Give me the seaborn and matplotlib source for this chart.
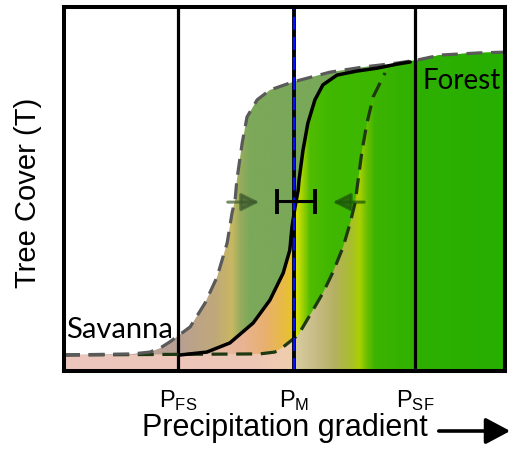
import numpy as np
import pandas as pd
import seaborn as sns
import matplotlib
matplotlib.use("Agg")
import matplotlib.pyplot as plt
from matplotlib.colors import LinearSegmentedColormap
from matplotlib.patches import Polygon, FancyArrowPatch

# ---------------- data (precipitation 0-100, tree cover 0-1) ----------------
savanna_T = 0.044

envelope_x = [0.0, 15.6, 19.5, 21.8, 24.0, 28.6, 32.0, 34.7, 37.0, 38.1, 38.8, 39.2,
              40.4, 41.5, 43.8, 46.7, 51.9, 60.3, 67.8, 75.5, 80.0, 85.3, 94.3, 100.0]
envelope_t = [0.044, 0.047, 0.052, 0.063, 0.080, 0.121, 0.187, 0.258, 0.352, 0.434, 0.470, 0.525,
              0.626, 0.698, 0.745, 0.772, 0.794, 0.821, 0.835, 0.846, 0.854, 0.868, 0.874, 0.876]

solid_x = [26.3, 32.4, 37.6, 42.9, 46.7, 49.7, 51.2, 51.7, 52.4, 53.1, 53.3, 54.2,
           55.3, 56.9, 58.7, 61.9, 66.4, 71.0, 75.5, 78.5]
solid_t = [0.044, 0.052, 0.077, 0.132, 0.195, 0.269, 0.332, 0.396, 0.451, 0.497, 0.525, 0.607,
           0.681, 0.745, 0.786, 0.813, 0.824, 0.832, 0.843, 0.849]

right_x = [0.0, 44.4, 47.8, 49.7, 53.1, 55.8, 58.7, 61.0, 63.3, 64.9, 66.0, 66.7,
           67.6, 68.7, 70.1, 72.8]
right_t = [0.044, 0.047, 0.052, 0.066, 0.099, 0.154, 0.214, 0.272, 0.341, 0.407, 0.462, 0.525,
           0.607, 0.681, 0.753, 0.819]

threshold_names = [r"$\mathregular{P_{FS}}$", r"$\mathregular{P_{M}}$", r"$\mathregular{P_{SF}}$"]
threshold_x = [25.85, 52.15, 79.6]

pm_est_x, pm_est_t, pm_err = 52.6, 0.467, 4.3
arrow_left = (36.5, 44.9)
arrow_right = (68.7, 60.3)
arrow_t = 0.464

# colour stops (precipitation position, colour) for the shaded layers
stops_envelope = [(0, "#C8A8A0"), (26.3, "#B8A093"), (34.2, "#C0A87A"), (38.1, "#C8B862"),
                  (39.9, "#98AC5E"), (42.2, "#7CA85A"), (100, "#70A858")]
stops_solid = [(0, "#EBC4BC"), (30.8, "#E9C0B2"), (39.9, "#E8B496"), (45.6, "#E8B070"),
               (50.1, "#E8BC40"), (51.7, "#E8C424"), (52.2, "#E0D000"), (52.8, "#D4E400"),
               (54.2, "#9CD000"), (55.8, "#50BC00"), (60.3, "#40B800"), (100, "#34B200")]
stops_right = [(0, "#ECC6BE"), (42.2, "#EEC6B6"), (50.1, "#F0CCB0"), (51.9, "#EED0A8"),
               (52.6, "#D8CCA0"), (56.9, "#C8BC88"), (61.5, "#B4B060"), (65.3, "#A8C028"),
               (67.1, "#A8D000"), (68.5, "#70C000"), (70.5, "#3CB400"), (80.7, "#2EB000"),
               (100, "#26AE00")]

# ---------------- figure ----------------
sns.set_theme(style="white")
plt.rcParams["font.family"] = ["Liberation Sans", "DejaVu Sans"]
plt.rcParams["mathtext.default"] = "regular"

fig = plt.figure(figsize=(5.14, 4.51), dpi=100)
ax = fig.add_axes([64 / 514, 1 - 371 / 451, 441 / 514, 364 / 451])


def gradient_layer(xs, ts, stops, z):
    verts = [(xs[0], 0)] + list(zip(xs, ts)) + [(xs[-1], 0)]
    poly = Polygon(verts, closed=True, facecolor="none", edgecolor="none")
    ax.add_patch(poly)
    cmap = LinearSegmentedColormap.from_list(
        "g", [(p / 100.0, c) for p, c in stops], N=2048)
    grad = np.linspace(0, 1, 2048).reshape(1, -1)
    im = ax.imshow(grad, cmap=cmap, extent=[0, 100, 0, 1], aspect="auto",
                   origin="lower", interpolation="bilinear", zorder=z)
    im.set_clip_path(poly)


env_x = np.array(envelope_x)
env_t = np.array(envelope_t)

gradient_layer(envelope_x, envelope_t, stops_envelope, 1)
tail = env_x > solid_x[-1]
sx = [0.0] + solid_x + list(env_x[tail])
st = [savanna_T] + solid_t + list(env_t[tail])
gradient_layer(sx, st, stops_solid, 1.1)
tail = env_x > right_x[-1]
rx = right_x + list(env_x[tail])
rt = right_t + list(env_t[tail])
gradient_layer(rx, rt, stops_right, 1.2)

# threshold lines
ax.axvline(threshold_x[0], color="black", lw=2.3, zorder=2)
ax.axvline(threshold_x[2], color="black", lw=2.3, zorder=2)
ax.axvline(threshold_x[1], color="black", lw=2.8, zorder=5)
ax.axvline(threshold_x[1], color="#0010FF", lw=1.7, ls=(0, (5.5, 3.0)), zorder=5.1)

# curves
df_env = pd.DataFrame({"P": envelope_x, "T": envelope_t})
df_sol = pd.DataFrame({"P": solid_x, "T": solid_t})
df_rig = pd.DataFrame({"P": right_x, "T": right_t})
sns.lineplot(data=df_rig, x="P", y="T", ax=ax, color="#1E3812", lw=2.3,
             ls=(0, (5, 2.7)), estimator=None, sort=False, zorder=3)
sns.lineplot(data=df_env, x="P", y="T", ax=ax, color="#5A5A5A", lw=2.3,
             ls=(0, (5, 2.7)), estimator=None, sort=False, zorder=3)
sns.lineplot(data=df_sol, x="P", y="T", ax=ax, color="black", lw=2.5,
             estimator=None, sort=False, zorder=4)

# error bar on P_M
ax.errorbar(pm_est_x, pm_est_t, xerr=pm_err, fmt="none", ecolor="black",
            elinewidth=2.2, capsize=9, capthick=2.8, zorder=6)

# arrows
ax.annotate("", xy=(arrow_left[1], arrow_t), xytext=(arrow_left[0], arrow_t),
            arrowprops=dict(arrowstyle="-|>,head_length=0.9,head_width=0.45",
                            color="#3E5A2C", lw=2.2, alpha=0.7), zorder=6)
ax.annotate("", xy=(arrow_right[1], arrow_t), xytext=(arrow_right[0], arrow_t),
            arrowprops=dict(arrowstyle="-|>,head_length=0.9,head_width=0.45",
                            color="#1E5A0A", lw=2.2, alpha=0.75), zorder=6)

# texts
ax.text(81.2, 0.775, "Forest", fontsize=20, family=["Lato", "DejaVu Sans"],
        va="baseline", ha="left", color="black", zorder=7)
ax.text(0.45, 0.091, "Savanna", fontsize=21, family=["Lato", "DejaVu Sans"],
        va="baseline", ha="left", color="black", zorder=7)

ax.set_xlim(0, 100)
ax.set_ylim(0, 1)
ax.set_xticks(threshold_x)
ax.set_xticklabels(threshold_names, fontsize=17)
ax.set_yticks([])
ax.tick_params(axis="x", length=0, pad=12, colors="black")
for s in ax.spines.values():
    s.set_visible(True)
    s.set_color("black")
    s.set_linewidth(2.9)
    s.set_zorder(8)

ax.set_xlabel("Precipitation gradient", fontsize=22, color="black")
ax.xaxis.label.set_va("baseline")
ax.xaxis.set_label_coords(0.5, -(436 - 371) / 364)
ax.set_ylabel("Tree Cover (T)", fontsize=21, color="black")
ax.yaxis.set_label_coords(-0.05, 0.49)

fig.patches.append(FancyArrowPatch(
    (436 / 514, 1 - 431 / 451), (513 / 514, 1 - 431 / 451), transform=fig.transFigure,
    arrowstyle="-|>,head_length=0.75,head_width=0.4", color="black", lw=2.6,
    mutation_scale=20))

fig.savefig("out.png", dpi=100)
